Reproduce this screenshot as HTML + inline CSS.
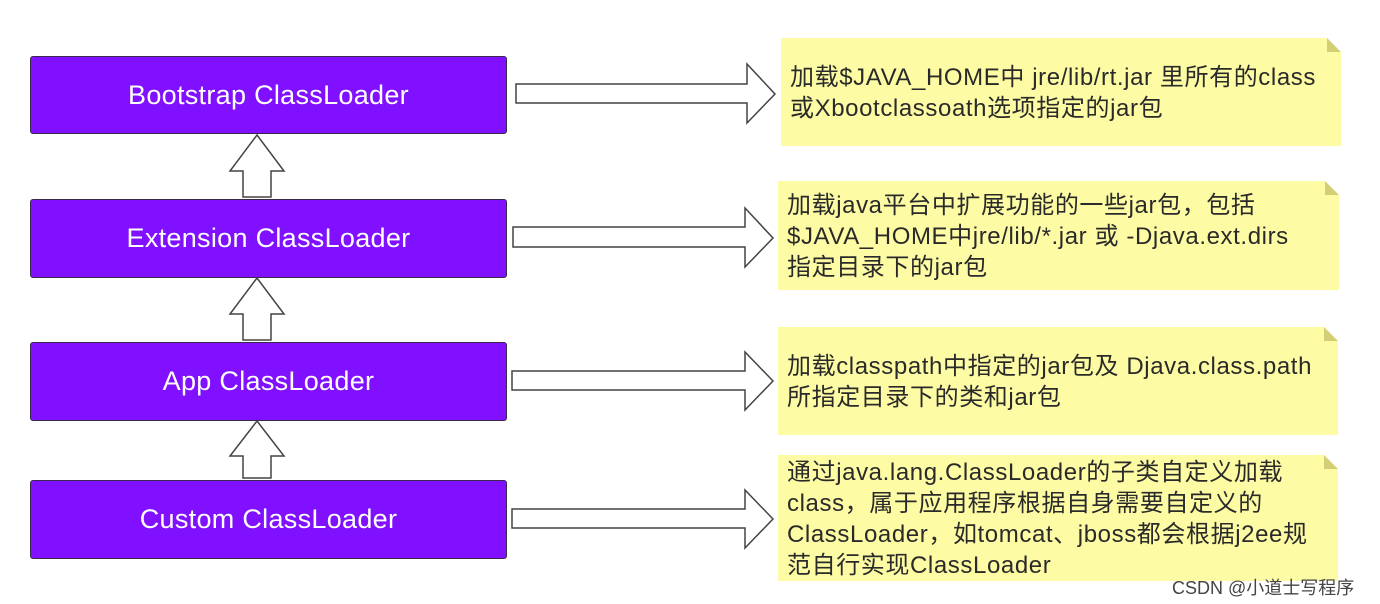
<!DOCTYPE html>
<html><head><meta charset="utf-8"><style>
body{margin:0;width:1380px;height:604px;background:#fff;position:relative;overflow:hidden;font-family:"Liberation Sans","Noto Sans CJK SC",sans-serif}
.b{position:absolute;left:30px;width:475px;background:#8010ff;border:1px solid #3a2a4a;border-radius:3px;color:#fff;font-size:27px;display:flex;align-items:center;justify-content:center;letter-spacing:0.3px}
.n{position:absolute;background:#fdfca4;color:#2a2a2a;font-size:24px;line-height:31px;padding-left:9px;box-sizing:border-box;letter-spacing:0.6px;white-space:nowrap}
.n:after{content:"";position:absolute;right:0;top:0;border-style:solid;border-width:0 14px 14px 0;border-color:#fff #fff #d3cf74 #d3cf74}
.wm{position:absolute;left:1172px;top:574px;font-size:18px;color:#444}
</style></head><body>
<div class="b" style="top:56px;height:76px">Bootstrap ClassLoader</div>
<div class="b" style="top:199px;height:77px">Extension ClassLoader</div>
<div class="b" style="top:342px;height:77px">App ClassLoader</div>
<div class="b" style="top:480px;height:77px">Custom ClassLoader</div>
<svg width="1380" height="604" style="position:absolute;left:0;top:0" fill="#fff" stroke="#444" stroke-width="1.5">
<polygon points="243,197 243,171 230,171 257,135 284,171 271,171 271,197"/>
<polygon points="243,340 243,314 230,314 257,278 284,314 271,314 271,340"/>
<polygon points="243,478 243,456 230,456 257,421 284,456 271,456 271,478"/>
<polygon points="516,84 747,84 747,64 775,94 747,123 747,103 516,103"/>
<polygon points="513,227 745,227 745,208 773,238 745,267 745,247 513,247"/>
<polygon points="512,371 745,371 745,352 773,381 745,410 745,390 512,390"/>
<polygon points="512,509 745,509 745,490 773,519 745,548 745,528 512,528"/>
</svg>
<div class="n" style="left:781px;top:38px;width:560px;height:108px;padding-top:24px">加载$JAVA_HOME中 jre/lib/rt.jar 里所有的class<br>或Xbootclassoath选项指定的jar包</div>
<div class="n" style="left:778px;top:181px;width:561px;height:109px;padding-top:9px">加载java平台中扩展功能的一些jar包，包括<br>$JAVA_HOME中jre/lib/*.jar 或 -Djava.ext.dirs<br>指定目录下的jar包</div>
<div class="n" style="left:778px;top:327px;width:560px;height:108px;padding-top:24px">加载classpath中指定的jar包及 Djava.class.path<br>所指定目录下的类和jar包</div>
<div class="n" style="left:778px;top:455px;width:560px;height:126px;padding-top:2px">通过java.lang.ClassLoader的子类自定义加载<br>class，属于应用程序根据自身需要自定义的<br>ClassLoader，如tomcat、jboss都会根据j2ee规<br>范自行实现ClassLoader</div>
<div class="wm">CSDN @小道士写程序</div>
</body></html>
